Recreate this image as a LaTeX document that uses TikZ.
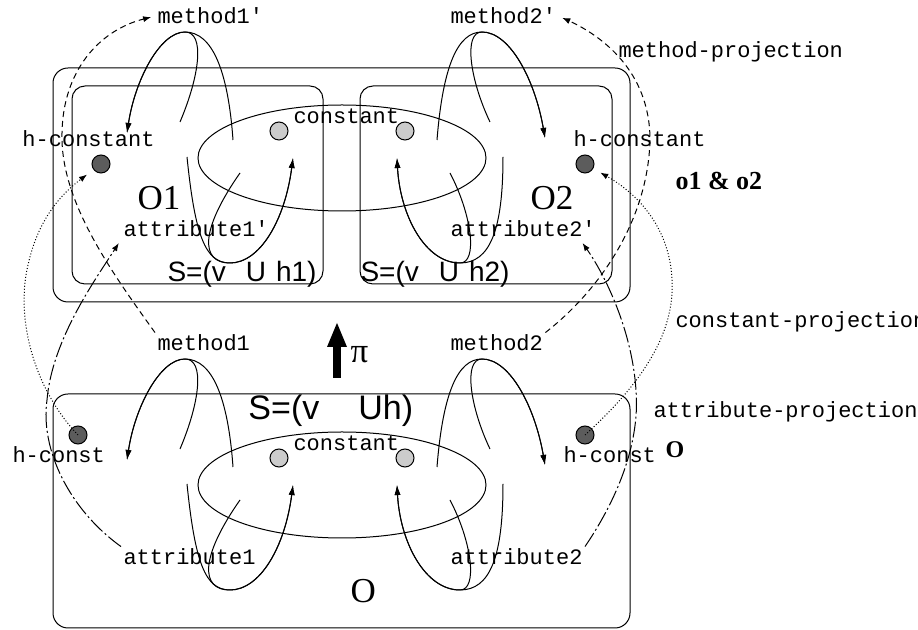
\documentclass[tikz,border=0pt]{standalone}
\usepackage{fontspec}
\setmainfont{Liberation Serif}
\setsansfont{Liberation Sans}
\setmonofont{Liberation Mono}
\usetikzlibrary{arrows.meta}

\begin{document}
\begin{tikzpicture}[x=0.5pt,y=-0.5pt,line width=0.5pt,
   lbl/.style={font=\ttfamily\fontsize{11}{13}\selectfont, anchor=base west, inner sep=1pt},
   big/.style={font=\fontsize{17.5}{20}\selectfont, anchor=base west, inner sep=1pt},
   bold/.style={font=\bfseries\fontsize{13}{15}\selectfont, anchor=base west, inner sep=1pt},
   set/.style={font=\sffamily\fontsize{14}{16}\selectfont, anchor=base west, inner sep=1pt},
   cdot/.style={circle, draw, fill=gray!40, minimum size=9pt, inner sep=0pt},
   hdot/.style={circle, draw, fill=black!64, minimum size=9pt, inner sep=0pt},
   selfarc/.style={-{Latex[length=5pt,width=3pt]}},
   methproj/.style={dash pattern=on 3pt off 2pt, -{Latex[length=4pt,width=3pt]}, shorten >=2pt},
   constproj/.style={dash pattern=on 0.5pt off 1pt, -{Latex[length=4pt,width=3pt]}, shorten >=4pt},
   attrproj/.style={dash pattern=on 8pt off 1.5pt on 1pt off 1.5pt, -{Latex[length=4pt,width=3pt]}, shorten >=2pt}]

   \useasboundingbox (0,0) rectangle (918,630);

   % o1 & o2 above, o below
   \draw[rounded corners=7.5pt] (53,68) rectangle (630,302);
   \draw[rounded corners=6.5pt] (72,86) rectangle (323,284);
   \draw[rounded corners=6.5pt] (360,86) rectangle (612,284);
   \draw[rounded corners=7.5pt] (53,394) rectangle (630,628);

   % constants with their method and attribute arcs, same for both levels
   \foreach \dy in {0,327}{
   \begin{scope}[shift={(0,\dy)}]
      \draw (342,158) ellipse [x radius=144, y radius=53];
      % left side
      \draw[selfarc] (180,122) .. controls (200,75) and (205,32) .. (185,32)
         .. controls (160,32) and (135,80) .. (127,133);
      \draw[selfarc] (233,140) .. controls (228,70) and (212,32) .. (185,32)
         .. controls (160,32) and (135,80) .. (127,133);
      \draw[selfarc] (187,157) .. controls (195,235) and (205,263) .. (230,263)
         .. controls (260,263) and (285,220) .. (293,158);
      \draw[selfarc] (240,173) .. controls (200,230) and (200,263) .. (230,263)
         .. controls (260,263) and (285,220) .. (293,158);
      % right side
      \draw[selfarc] (437,140) .. controls (443,65) and (458,32) .. (482,32)
         .. controls (510,32) and (535,80) .. (545,138);
      \draw[selfarc] (490,122) .. controls (470,80) and (463,32) .. (482,32)
         .. controls (510,32) and (535,80) .. (545,138);
      \draw[selfarc] (503,157) .. controls (503,230) and (490,263) .. (460,263)
         .. controls (425,263) and (400,215) .. (397,158);
      \draw[selfarc] (450,173) .. controls (472,215) and (478,263) .. (460,263)
         .. controls (425,263) and (400,215) .. (397,158);
      \node[lbl] (cn\dy) at (291,124) {constant};
      \node[cdot] (cl\dy) at (279,131) {};
      \node[cdot] (cr\dy) at (405,131) {};
   \end{scope}
   }

   % hidden constants
   \node[hdot] (hd1) at (101,164) {};
   \node[hdot] (hd2) at (585,164) {};
   \node[hdot] (hd3) at (78,435) {};
   \node[hdot] (hd4) at (585,435) {};

   % labels, upper level
   \node[lbl] (m1p) at (155,24) {method1'};
   \node[lbl] (m2p) at (448,24) {method2'};
   \node[lbl] (hc1) at (20,147) {h-constant};
   \node[lbl] (hc2) at (571,147) {h-constant};
   \node[lbl] (at1p) at (121,237) {attribute1'};
   \node[lbl] (at2p) at (448,237) {attribute2'};
   \node[big] (o1) at (135,210) {O1};
   \node[big] (o2) at (528,210) {O2};
   \node[set] (s1) at (165,282) {S=(v\hspace{10pt}U\hspace{5pt}h1)};
   \node[set] (s2) at (358,282) {S=(v\hspace{10pt}U\hspace{5pt}h2)};
   \node[bold] (o12) at (673,190) {o1 \& o2};

   % labels, lower level
   \node[lbl] (m1) at (155,351) {method1};
   \node[lbl] (m2) at (448,351) {method2};
   \node[lbl] (hs1) at (10,463) {h-const};
   \node[lbl] (hs2) at (561,463) {h-const};
   \node[lbl] (at1) at (121,565) {attribute1};
   \node[lbl] (at2) at (448,565) {attribute2};
   \node[big] (o) at (348,603) {O};
   \node[set, font=\sffamily\fontsize{17}{19}\selectfont] (s) at (246,420) {S=(v\hspace{19.5pt}Uh)};
   \node[bold, font=\bfseries\fontsize{12}{14}\selectfont] (ob) at (663,458) {O};

   % projection names
   \node[lbl] (mproj) at (616,58) {method-projection};
   \node[lbl] (cproj) at (673,328) {constant-projection};
   \node[lbl] (aproj) at (651,418) {attribute-projection};

   % pi
   \coordinate (pifoot) at (337,378);
   \coordinate (pitip) at (337,323);
   \draw[line width=4pt, -{Triangle[length=12pt,width=10pt,line width=0pt]}] (pifoot) -- (pitip);
   \node[big] (pi) at (348,363) {π};

   % projections
   \draw[methproj] (m1.north west) .. controls (110,270) and (60,200) .. (62,133)
      .. controls (63,70) and (100,30) .. (m1p.west);
   \draw[methproj] (m2.north east) .. controls (600,290) and (648,220) .. (650,140)
      .. controls (650,70) and (600,35) .. (m2p.east);
   \draw[constproj] (hd3.center) .. controls (35,390) and (15,320) .. (28,265)
      .. controls (38,220) and (60,195) .. (hd1);
   \draw[constproj] (hd4.center) .. controls (640,385) and (675,335) .. (672,280)
      .. controls (670,230) and (640,195) .. (hd2);
   \draw[attrproj] (at1.north west) .. controls (70,510) and (40,450) .. (47,400)
      .. controls (52,340) and (95,280) .. (at1p.south west);
   \draw[attrproj] (at2.north east) .. controls (620,495) and (640,440) .. (636,390)
      .. controls (632,330) and (605,275) .. ([xshift=-9pt]at2p.south east);

\end{tikzpicture}
\end{document}
